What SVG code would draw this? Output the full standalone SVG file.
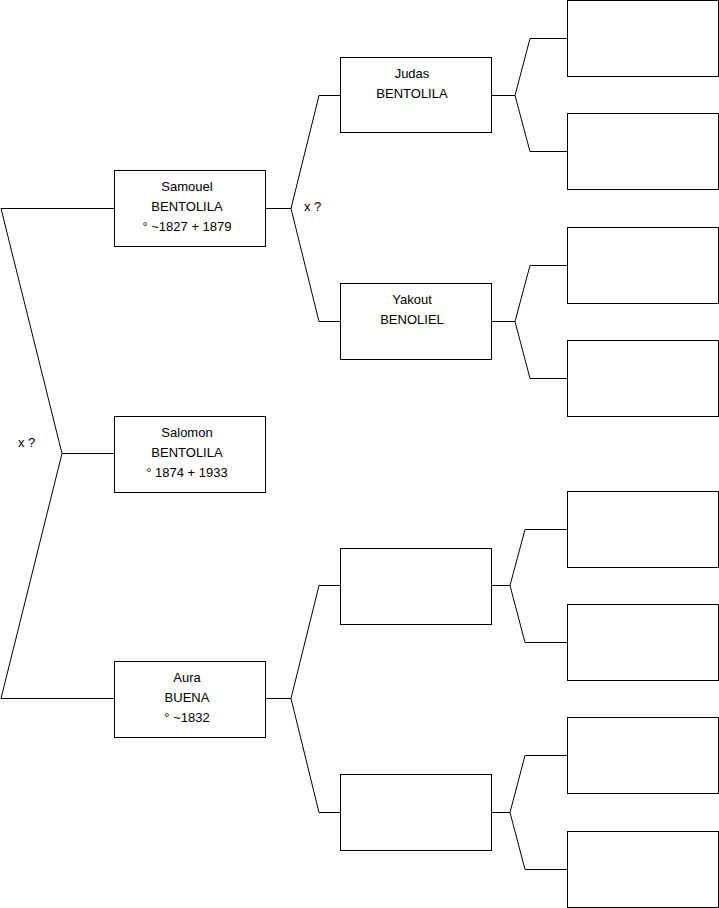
<svg xmlns="http://www.w3.org/2000/svg" width="719" height="908" viewBox="0 0 719 908">
<style>
rect{fill:#fff;stroke:#000;stroke-width:1}
.c{fill:none;stroke:#000;stroke-width:1}
text{font-family:"Liberation Sans",Arial,sans-serif;font-size:13px;fill:#000}
.m{text-anchor:middle}
</style>
<rect x="0" y="0" width="719" height="908" style="stroke:none"/>
<g id="connectors">
<polyline class="c" points="114,208.5 1,208.5 62,453.5 1,698.5 114,698.5"/>
<line class="c" x1="62" y1="453.5" x2="114" y2="453.5"/>
<line class="c" x1="265" y1="208.5" x2="291" y2="208.5"/>
<polyline class="c" points="341,95.5 319,95.5 291,208.5 319,321.5 341,321.5"/>
<line class="c" x1="491" y1="95.5" x2="515" y2="95.5"/>
<polyline class="c" points="567,38.5 530,38.5 515,95.5 530,151.5 567,151.5"/>
<line class="c" x1="491" y1="321.5" x2="515" y2="321.5"/>
<polyline class="c" points="567,265.5 530,265.5 515,321.5 530,378.5 567,378.5"/>
<line class="c" x1="265" y1="698.5" x2="291" y2="698.5"/>
<polyline class="c" points="341,585.5 319,585.5 291,698.5 319,812.5 341,812.5"/>
<line class="c" x1="491" y1="585.5" x2="510" y2="585.5"/>
<polyline class="c" points="567,529.5 525,529.5 510,585.5 525,642.5 567,642.5"/>
<line class="c" x1="491" y1="812.5" x2="510" y2="812.5"/>
<polyline class="c" points="567,755.5 525,755.5 510,812.5 525,869.5 567,869.5"/>
<text x="304" y="211">x ?</text>
<text x="18" y="447">x ?</text>
</g>
<g id="samouel">
<rect x="114.5" y="170.5" width="151" height="76"/>
<text class="m" x="187" y="191">Samouel</text>
<text class="m" x="187" y="211">BENTOLILA</text>
<text class="m" x="187" y="231">° ~1827 + 1879</text>
</g>
<g id="salomon">
<rect x="114.5" y="416.5" width="151" height="76"/>
<text class="m" x="187" y="437">Salomon</text>
<text class="m" x="187" y="457">BENTOLILA</text>
<text class="m" x="187" y="477">° 1874 + 1933</text>
</g>
<g id="aura">
<rect x="114.5" y="661.5" width="151" height="76"/>
<text class="m" x="187" y="682">Aura</text>
<text class="m" x="187" y="702">BUENA</text>
<text class="m" x="187" y="722">° ~1832</text>
</g>
<g id="judas">
<rect x="340.5" y="57.5" width="151" height="75"/>
<text class="m" x="412" y="78">Judas</text>
<text class="m" x="412" y="98">BENTOLILA</text>
</g>
<g id="yakout">
<rect x="340.5" y="283.5" width="151" height="76"/>
<text class="m" x="412" y="304">Yakout</text>
<text class="m" x="412" y="324">BENOLIEL</text>
</g>
<g id="aura-father"><rect x="340.5" y="548.5" width="151" height="76"/></g>
<g id="aura-mother"><rect x="340.5" y="774.5" width="151" height="76"/></g>
<g id="judas-father"><rect x="567.5" y="0.5" width="151" height="76"/></g>
<g id="judas-mother"><rect x="567.5" y="113.5" width="151" height="76"/></g>
<g id="yakout-father"><rect x="567.5" y="227.5" width="151" height="76"/></g>
<g id="yakout-mother"><rect x="567.5" y="340.5" width="151" height="76"/></g>
<g id="p1-father"><rect x="567.5" y="491.5" width="151" height="76"/></g>
<g id="p1-mother"><rect x="567.5" y="604.5" width="151" height="76"/></g>
<g id="p2-father"><rect x="567.5" y="717.5" width="151" height="76"/></g>
<g id="p2-mother"><rect x="567.5" y="831.5" width="151" height="76"/></g>
</svg>
